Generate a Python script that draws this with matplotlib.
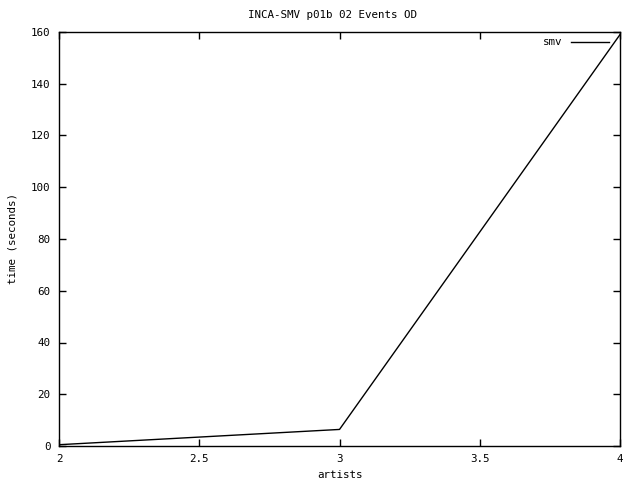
import matplotlib
matplotlib.use("Agg")
import matplotlib.pyplot as plt

artists = [2, 3, 4]
smv = [0.5, 6.4, 159]
xticks = [2, 2.5, 3, 3.5, 4]
xticklabels = ["2", "2.5", "3", "3.5", "4"]
yticks = [0, 20, 40, 60, 80, 100, 120, 140, 160]

plt.rcParams['font.family'] = ['DejaVu Sans Mono']
fs = 7.8

fig = plt.figure(figsize=(6.4, 4.8), dpi=100)
ax = fig.add_axes([59/640, 34/480, 561/640, 414/480])
ax.plot(artists, smv, color='black', linewidth=1, label='smv')
ax.set_xlim(2, 4)
ax.set_ylim(0, 160)
ax.set_xticks(xticks)
ax.set_xticklabels(xticklabels)
ax.set_yticks(yticks)
ax.tick_params(direction='in', top=True, right=True, length=5, width=1, labelsize=fs, pad=6)
for s in ax.spines.values():
    s.set_linewidth(1)
ax.set_xlabel('artists', fontsize=fs, labelpad=4)
ax.set_ylabel('time (seconds)', fontsize=fs, labelpad=10)
fig.text(332/640, 1 - 15/480, 'INCA-SMV p01b 02 Events OD', ha='center', va='center', fontsize=fs)
leg = ax.legend(loc='upper right', bbox_to_anchor=(1 - 6/561, 1), frameon=False, fontsize=fs,
                markerfirst=False, handlelength=3.5, borderaxespad=0.3, handletextpad=0.8,
                borderpad=0.2)
fig.savefig('out.png', dpi=100)
